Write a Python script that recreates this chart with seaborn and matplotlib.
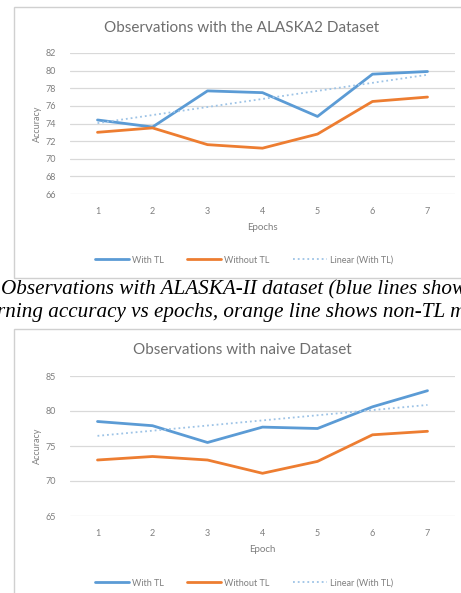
import numpy as np
import pandas as pd
import matplotlib
matplotlib.use("Agg")
import matplotlib.pyplot as plt
from matplotlib.patches import Rectangle
import seaborn as sns

# data
epochs = [1, 2, 3, 4, 5, 6, 7]
alaska_with_tl = [74.4, 73.6, 77.7, 77.5, 74.8, 79.6, 79.9]
alaska_without_tl = [73.0, 73.5, 71.6, 71.2, 72.8, 76.5, 77.0]
naive_with_tl = [78.5, 77.9, 75.5, 77.7, 77.5, 80.6, 82.9]
naive_without_tl = [73.0, 73.5, 73.0, 71.1, 72.8, 76.6, 77.1]

alaska_yticks = [66, 68, 70, 72, 74, 76, 78, 80, 82]
naive_yticks = [65, 70, 75, 80, 85]

caption_1 = "Observations with ALASKA-II dataset (blue lines show"
caption_2 = "rning accuracy vs epochs, orange line shows non-TL m"

BLUE = "#5B9BD5"
ORANGE = "#ED7D31"
TEXT = "#7F7F7F"
GRID = "#D9D9D9"

sns.set_theme(style="white")
plt.rcParams["font.family"] = ["Lato", "DejaVu Sans"]

W, H = 461, 593
fig = plt.figure(figsize=(W / 100, H / 100), dpi=100)
fig.patch.set_facecolor("white")


def px_axes(left, top, right, bottom):
    return fig.add_axes([left / W, 1 - bottom / H, (right - left) / W, (bottom - top) / H])


def frame(left, top, right, bottom):
    fig.patches.append(Rectangle((left / W, 1 - bottom / H), (right - left) / W, (bottom - top) / H,
                                 transform=fig.transFigure, fill=False, ec="#D0D0D0", lw=1.0))


def draw_chart(ax, with_tl, without_tl, yticks, title, xlabel, title_y, xlabel_y, legend_y, ylabel_y):
    sns.lineplot(x=epochs, y=with_tl, ax=ax, color=BLUE, lw=2.0, label="With TL")
    sns.lineplot(x=epochs, y=without_tl, ax=ax, color=ORANGE, lw=2.0, label="Without TL")
    sns.regplot(x=epochs, y=with_tl, ax=ax, scatter=False, ci=None, label="Linear (With TL)",
                line_kws=dict(color="#9DC3E6", lw=1.3, ls=":"))
    ax.set_xlim(0.5, 7.5)
    ax.set_ylim(yticks[0], yticks[-1])
    ax.set_yticks(yticks)
    ax.set_xticks(epochs)
    ax.set_xlabel("")
    ax.set_ylabel("")
    ax.yaxis.grid(True, color=GRID, lw=0.9)
    ax.set_axisbelow(True)
    for s in ax.spines.values():
        s.set_visible(False)
    ax.tick_params(axis="both", length=0, labelsize=6.5, colors=TEXT)
    ax.tick_params(axis="x", pad=9)
    ax.tick_params(axis="y", pad=10)
    if ax.legend_:
        ax.legend_.remove()
    handles, labels = ax.get_legend_handles_labels()
    fig.legend(handles, labels, loc="center", bbox_to_anchor=(244 / W, 1 - legend_y / H),
               ncol=3, frameon=False, fontsize=6.5, handlelength=3.8, columnspacing=2.6,
               handletextpad=0.3, labelcolor=TEXT)
    fig.text(242 / W, 1 - title_y / H, title, ha="center", va="center", fontsize=11, color="#6E6E6E")
    fig.text(262 / W, 1 - xlabel_y / H, xlabel, ha="center", va="center", fontsize=7, color=TEXT)
    fig.text(37 / W, 1 - ylabel_y / H, "Accuracy", ha="center", va="center", rotation=90,
             fontsize=6.5, color=TEXT)


# chart frames
frame(14, 7, 470, 278)
frame(14, 329, 470, 610)

ax1 = px_axes(70, 53, 455, 194)
draw_chart(ax1, alaska_with_tl, alaska_without_tl, alaska_yticks,
           "Observations with the ALASKA2 Dataset", "Epochs", 28, 228, 260, 124)

ax2 = px_axes(70, 376, 455, 516)
draw_chart(ax2, naive_with_tl, naive_without_tl, naive_yticks,
           "Observations with naive Dataset", "Epoch", 350, 550, 583, 446)

# caption between the charts (cropped at both edges, as in the source)
fig.text(1 / W, 1 - 290 / H, caption_1, ha="left", va="center", fontsize=15.2,
         family="Liberation Serif", style="italic", color="black")
fig.text(-3 / W, 1 - 312 / H, caption_2, ha="left", va="center", fontsize=15.2,
         family="Liberation Serif", style="italic", color="black")

fig.savefig("out.png", dpi=100)
